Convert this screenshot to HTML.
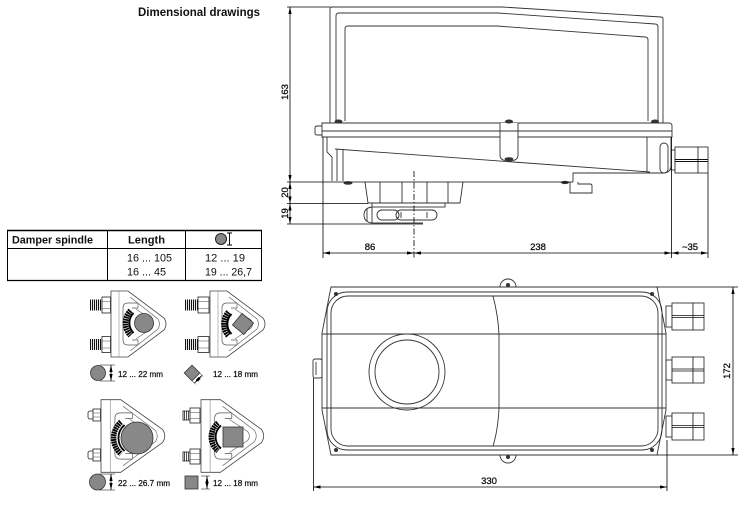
<!DOCTYPE html>
<html><head><meta charset="utf-8"><style>
html,body{margin:0;padding:0;background:#fff;}
svg{display:block;}
text{font-family:"Liberation Sans",Arial,sans-serif;fill:#111;}
</style></head><body>
<svg width="742" height="508" viewBox="0 0 742 508" xmlns="http://www.w3.org/2000/svg">
<defs>
<marker id="ar" markerWidth="7" markerHeight="4" refX="7" refY="2" orient="auto-start-reverse" markerUnits="userSpaceOnUse"><path d="M0,0.4 L7,2 L0,3.6 z" fill="#000"/></marker>
<g id="cb">
 <path d="M0,-33 H17 L53,-6 Q57,0 53,6 L17,33 H0 Z" fill="#fff" stroke="#444" stroke-width="0.8" vector-effect="non-scaling-stroke"/>
 <path d="M8,-33 V33" fill="none" stroke="#888" stroke-width="0.6" vector-effect="non-scaling-stroke"/>
 <path d="M19,-27 L47,-5 Q50,0 47,5 L19,27" fill="none" stroke="#666" stroke-width="0.7" vector-effect="non-scaling-stroke"/>
 <path d="M27,-21 H17 Q12,-21 12,-16 V16 Q12,21 17,21 H27 M27,-21 V-16 H21 M27,21 V16 H21" fill="none" stroke="#555" stroke-width="0.7" vector-effect="non-scaling-stroke"/>
 <path d="M25,-15 L41,-4 Q44,0 41,4 L25,15" fill="none" stroke="#666" stroke-width="0.7" vector-effect="non-scaling-stroke"/>
</g>
</defs>

<!-- Title -->
<text x="138" y="16" font-size="12" font-weight="bold" textLength="122" lengthAdjust="spacingAndGlyphs">Dimensional drawings</text>

<!-- Table -->
<g stroke="#000" fill="none">
 <line x1="7" y1="230.5" x2="262" y2="230.5" stroke-width="1.6"/>
 <line x1="7" y1="248.5" x2="262" y2="248.5" stroke-width="1"/>
 <line x1="7" y1="280.5" x2="262" y2="280.5" stroke-width="1.3"/>
 <line x1="7.5" y1="230" x2="7.5" y2="281" stroke-width="1"/>
 <line x1="107.5" y1="230" x2="107.5" y2="281" stroke-width="1"/>
 <line x1="185.5" y1="230" x2="185.5" y2="281" stroke-width="1"/>
 <line x1="261.5" y1="230" x2="261.5" y2="281" stroke-width="1"/>
</g>
<text x="12" y="243.5" font-size="11" font-weight="bold" textLength="81" lengthAdjust="spacingAndGlyphs">Damper spindle</text>
<text x="128" y="243.5" font-size="11" font-weight="bold" textLength="37" lengthAdjust="spacingAndGlyphs">Length</text>
<circle cx="221" cy="239" r="5.5" fill="#888" stroke="#222" stroke-width="1"/>
<path d="M229.5,233 V245 M227,233 H232 M227,245 H232" stroke="#000" stroke-width="0.9" fill="none"/>
<text x="127" y="261.5" font-size="11" textLength="45" lengthAdjust="spacingAndGlyphs">16 ... 105</text>
<text x="127" y="275.5" font-size="11" textLength="39" lengthAdjust="spacingAndGlyphs">16 ... 45</text>
<text x="205" y="261.5" font-size="11" textLength="40" lengthAdjust="spacingAndGlyphs">12 ... 19</text>
<text x="205" y="275.5" font-size="11" textLength="47" lengthAdjust="spacingAndGlyphs">19 ... 26,7</text>

<!-- ========== Clamps ========== -->
<!-- clamp 1 -->
<line x1="90" y1="305" x2="102" y2="305" stroke="#111" stroke-width="11" stroke-dasharray="1.1 0.9"/>
<line x1="90" y1="344.5" x2="102" y2="344.5" stroke="#111" stroke-width="11" stroke-dasharray="1.1 0.9"/>
<g fill="#fff" stroke="#222" stroke-width="0.8">
 <rect x="102" y="297" width="8.5" height="16"/>
 <rect x="102" y="336.5" width="8.5" height="16"/>
</g>
<path d="M102,301.5 H110.5 M102,308.5 H110.5 M102,341 H110.5 M102,348 H110.5" stroke="#444" stroke-width="0.6"/>
<use href="#cb" transform="translate(111,324)"/>
<path d="M130.5,310.5 A18,18 0 0 0 130.5,335.5" fill="none" stroke="#000" stroke-width="5.5" stroke-dasharray="1.8 0.6"/>
<path d="M133.5,313 A14,14 0 0 0 133.5,333" fill="none" stroke="#000" stroke-width="2"/>
<circle cx="144" cy="323" r="9.5" fill="#888" stroke="#333" stroke-width="0.8"/>
<!-- legend 1 -->
<circle cx="98" cy="373" r="7.5" fill="#888" stroke="#333" stroke-width="0.8"/>
<path d="M100,365 H115 M100,381 H115" stroke="#000" stroke-width="0.5"/>
<line x1="111" y1="365" x2="111" y2="381" stroke="#000" stroke-width="0.8" marker-start="url(#ar)" marker-end="url(#ar)"/>
<text x="118" y="377" font-size="8" stroke="#111" stroke-width="0.25" textLength="45" lengthAdjust="spacingAndGlyphs">12 ... 22 mm</text>

<!-- clamp 2 -->
<line x1="185" y1="305" x2="198" y2="305" stroke="#111" stroke-width="11" stroke-dasharray="1.1 0.9"/>
<line x1="185" y1="344.5" x2="198" y2="344.5" stroke="#111" stroke-width="11" stroke-dasharray="1.1 0.9"/>
<g fill="#fff" stroke="#222" stroke-width="0.8">
 <rect x="198" y="297" width="11" height="16"/>
 <rect x="198" y="336.5" width="11" height="16"/>
</g>
<path d="M198,301.5 H209 M198,308.5 H209 M198,341 H209 M198,348 H209" stroke="#444" stroke-width="0.6"/>
<use href="#cb" transform="translate(210,324)"/>
<path d="M228.5,312 A18,18 0 0 0 228.5,336" fill="none" stroke="#000" stroke-width="5.5" stroke-dasharray="1.8 0.6"/>
<path d="M231.5,314 A14,14 0 0 0 231.5,334" fill="none" stroke="#000" stroke-width="2"/>
<rect x="235.5" y="316.5" width="15" height="15" fill="#888" stroke="#333" stroke-width="0.8" transform="rotate(40 243 324)"/>
<!-- legend 2 -->
<rect x="186.5" y="367.5" width="11" height="11" fill="#888" stroke="#333" stroke-width="0.8" transform="rotate(45 192 373)"/>
<path d="M192,380.8 L195.5,384.3 M199.8,373 L203.3,376.5" stroke="#000" stroke-width="0.5"/>
<line x1="194.5" y1="383" x2="202" y2="375.5" stroke="#000" stroke-width="0.7" marker-start="url(#ar)" marker-end="url(#ar)"/>
<text x="213" y="377" font-size="8" stroke="#111" stroke-width="0.25" textLength="45" lengthAdjust="spacingAndGlyphs">12 ... 18 mm</text>

<!-- clamp 3 -->
<g fill="#fff" stroke="#222" stroke-width="0.8">
 <rect x="88" y="411" width="6" height="8" rx="2"/>
 <rect x="88" y="451" width="6" height="8" rx="2"/>
 <rect x="93" y="409" width="7.5" height="12"/>
 <rect x="93" y="449" width="7.5" height="12"/>
</g>
<path d="M93,413 H100.5 M93,417 H100.5 M93,453 H100.5 M93,457 H100.5" stroke="#444" stroke-width="0.6"/>
<use href="#cb" transform="translate(101,436) scale(1.16,1.1)"/>
<path d="M121,422 A21,21 0 0 0 121,454" fill="none" stroke="#000" stroke-width="5.5" stroke-dasharray="1.8 0.6"/>
<path d="M124.5,425 A17,17 0 0 0 124.5,451" fill="none" stroke="#000" stroke-width="1.8"/>
<circle cx="137" cy="438" r="16" fill="#888" stroke="#333" stroke-width="0.8"/>
<!-- legend 3 -->
<circle cx="97.5" cy="482" r="8" fill="#888" stroke="#333" stroke-width="0.8"/>
<path d="M100,474 H115 M100,490 H115" stroke="#000" stroke-width="0.5"/>
<line x1="111" y1="474" x2="111" y2="490" stroke="#000" stroke-width="0.8" marker-start="url(#ar)" marker-end="url(#ar)"/>
<text x="118" y="486" font-size="8" stroke="#111" stroke-width="0.25" textLength="52" lengthAdjust="spacingAndGlyphs">22 ... 26.7 mm</text>

<!-- clamp 4 -->
<g fill="#fff" stroke="#222" stroke-width="0.8">
 <rect x="183" y="411" width="8" height="9"/>
 <rect x="183" y="452" width="8" height="9"/>
 <rect x="190" y="408" width="10" height="15"/>
 <rect x="190" y="449" width="10" height="15"/>
</g>
<path d="M184.5,411 V420 M186.5,411 V420 M188.5,411 V420 M184.5,452 V461 M186.5,452 V461 M188.5,452 V461" stroke="#222" stroke-width="0.8"/>
<path d="M190,412.5 H200 M190,418.5 H200 M190,453.5 H200 M190,459.5 H200" stroke="#444" stroke-width="0.6"/>
<use href="#cb" transform="translate(201,436) scale(1.14,1.1)"/>
<path d="M218,423 A18,18 0 0 0 218,451" fill="none" stroke="#000" stroke-width="5.5" stroke-dasharray="1.8 0.6"/>
<path d="M221,425.5 A15,15 0 0 0 221,448.5" fill="none" stroke="#000" stroke-width="1.8"/>
<rect x="223" y="427" width="20" height="20" fill="#888" stroke="#333" stroke-width="0.8"/>
<!-- legend 4 -->
<rect x="185" y="476" width="13" height="13" fill="#888" stroke="#333" stroke-width="0.8"/>
<path d="M201,476 H210 M201,489 H210" stroke="#000" stroke-width="0.5"/>
<line x1="207" y1="476" x2="207" y2="489" stroke="#000" stroke-width="0.8" marker-start="url(#ar)" marker-end="url(#ar)"/>
<text x="213" y="486" font-size="8" stroke="#111" stroke-width="0.25" textLength="45" lengthAdjust="spacingAndGlyphs">12 ... 18 mm</text>

<!-- ========== Side view ========== -->
<g stroke="#333" stroke-width="0.9" fill="none">
 <path d="M330,123 V9 Q330,7 332,7 H502 L661,17 Q663,17 663,19 V123"/>
 <path d="M336,121 V16 Q336,13 339,13 H498 L655,24 Q658,24 658,27 V121"/>
 <path d="M345,121 V29 Q345,26 348,26 H497 L645,37 Q648,37 648,40 V121"/>
 <!-- flange -->
 <path d="M322,123 H669 Q672,123 672,126 V137 H322 Z" fill="#fff"/>
 <line x1="322" y1="131" x2="672" y2="131"/>
 <path d="M322,126 H317 Q315,126 315,128 V133 Q315,135 317,135 H322"/>
 <!-- center lug -->
 <path d="M500,123 V155 Q500,161 509,161 Q518,161 518,155 V123" fill="#fff"/>
 <line x1="500" y1="131" x2="518" y2="131"/>
 <!-- lower body -->
 <path d="M327,137 V152 L332,157 V181"/>
 <path d="M337,149 V181"/>
 <path d="M343,150 V181"/>
 <path d="M335,149 L650,172"/>
 <path d="M647,137 V172"/>
 <path d="M573,182 V173 H663 Q671,173 671,165 V137"/>
 <rect x="660" y="143" width="8" height="30" rx="4" fill="#fff"/>
 <!-- bracket -->
 <path d="M570,182 V193 H592 V186 Q592,184 590,184 H578 V182"/>
 <!-- coupling -->
 <path d="M365,182 L368,203 H460 L463,182"/>
 <path d="M380,182 V203 M402,182 V203 M427,182 V203 M448,182 V203"/>
 <rect x="372" y="203" width="73" height="4"/>
 <path d="M372,207 Q364,208 364,215 Q364,222 372,223"/>
 <path d="M367,209 V221"/>
 <line x1="372" y1="207" x2="372" y2="223"/>
 <rect x="377" y="210" width="22" height="10" rx="5"/>
 <rect x="396" y="210" width="41" height="10" rx="5"/>
 <path d="M401,212 V218 M427,212 V218"/>
 <!-- gland -->
 <rect x="671" y="150" width="4" height="20"/>
 <rect x="675" y="147" width="23" height="26" fill="#fff"/>
 <rect x="698" y="147" width="10" height="26" fill="#fff"/>
</g>
<path d="M675,159.5 H708 M675,161.5 H708" stroke="#111" stroke-width="0.9"/>
<!-- screw heads -->
<g fill="#333">
 <ellipse cx="338.5" cy="121.5" rx="4" ry="2"/>
 <ellipse cx="509" cy="121.5" rx="4" ry="2"/>
 <ellipse cx="655" cy="121.5" rx="4" ry="2"/>
 <ellipse cx="509" cy="159" rx="4.5" ry="1.8"/>
 <ellipse cx="348" cy="183" rx="4.5" ry="1.8"/>
 <ellipse cx="565" cy="182.5" rx="4" ry="1.6"/>
</g>
<!-- dimension lines side -->
<g stroke="#000" stroke-width="0.8" fill="none">
 <line x1="287" y1="7" x2="330" y2="7"/>
 <line x1="287" y1="182" x2="573" y2="182"/>
 <line x1="287" y1="203.5" x2="368" y2="203.5"/>
 <line x1="287" y1="224" x2="423" y2="224"/>
 <line x1="372" y1="223" x2="423" y2="223"/>
 <line x1="290" y1="7" x2="290" y2="182" marker-start="url(#ar)" marker-end="url(#ar)"/>
 <line x1="290" y1="182" x2="290" y2="203.5" marker-start="url(#ar)" marker-end="url(#ar)"/>
 <line x1="290" y1="203.5" x2="290" y2="224" marker-start="url(#ar)" marker-end="url(#ar)"/>
 <line x1="323" y1="137" x2="323" y2="258"/>
 <line x1="671.5" y1="137" x2="671.5" y2="258"/>
 <line x1="708" y1="173" x2="708" y2="258"/>
 <line x1="323" y1="253" x2="414" y2="253" marker-start="url(#ar)" marker-end="url(#ar)"/>
 <line x1="414" y1="253" x2="671.5" y2="253" marker-start="url(#ar)" marker-end="url(#ar)"/>
 <line x1="671.5" y1="253" x2="708" y2="253" marker-start="url(#ar)" marker-end="url(#ar)"/>
 <line x1="414" y1="171" x2="414" y2="258" stroke-dasharray="6 2 1.5 2"/>
</g>
<g stroke="#111" stroke-width="0.3">
<text transform="translate(288,92) rotate(-90)" font-size="9.5" text-anchor="middle">163</text>
<text transform="translate(288,192.5) rotate(-90)" font-size="9.5" text-anchor="middle">20</text>
<text transform="translate(288,213.5) rotate(-90)" font-size="9.5" text-anchor="middle">19</text>
<text x="370" y="250" font-size="9.5" text-anchor="middle">86</text>
<text x="538" y="250" font-size="9.5" text-anchor="middle">238</text>
<text x="690" y="250" font-size="9.5" text-anchor="middle">~35</text>
</g>

<!-- ========== Top view ========== -->
<g stroke="#333" stroke-width="0.9" fill="none">
 <path d="M500,287 A8,8 0 0 1 516,287" fill="#fff"/>
 <path d="M500,455 A8,8 0 0 0 516,455" fill="#fff"/>
 <path d="M331,287 H657 L666,333 V410 L657,455 H331 L322,410 V333 Z"/>
 <rect x="327" y="292" width="335" height="158" rx="20"/>
 <rect x="331" y="296" width="327" height="150" rx="17"/>
 <line x1="322" y1="334" x2="666" y2="334"/>
 <line x1="322" y1="408" x2="666" y2="408"/>
 <path d="M493,296 Q498,315 499,334 V408 Q498,430 493,446"/>
 <circle cx="407" cy="372" r="38"/>
 <circle cx="407" cy="372" r="32"/>
 <rect x="313" y="359" width="9" height="19" rx="2"/>
 <line x1="316" y1="362" x2="316" y2="375"/>
 <!-- glands -->
 <rect x="666" y="306" width="6" height="21"/>
 <rect x="672" y="303" width="21" height="27" fill="#fff"/>
 <rect x="693" y="303" width="11" height="27" fill="#fff"/>
 <rect x="666" y="360" width="6" height="20"/>
 <rect x="672" y="357" width="21" height="26" fill="#fff"/>
 <rect x="693" y="357" width="11" height="26" fill="#fff"/>
 <rect x="666" y="416" width="6" height="21"/>
 <rect x="672" y="413" width="21" height="27" fill="#fff"/>
 <rect x="693" y="413" width="11" height="27" fill="#fff"/>
</g>
<path d="M672,315.5 H704 M672,317.5 H704 M672,369 H704 M672,371 H704 M672,425.5 H704 M672,427.5 H704" stroke="#111" stroke-width="0.8"/>
<g fill="#333">
 <circle cx="336" cy="294" r="2"/><circle cx="652" cy="294" r="2"/>
 <circle cx="336" cy="450" r="2"/><circle cx="652" cy="450" r="2"/>
 <circle cx="508" cy="285" r="2"/><circle cx="508" cy="457" r="2"/>
</g>
<g stroke="#000" stroke-width="0.8" fill="none">
 <line x1="657" y1="287" x2="738" y2="287"/>
 <line x1="657" y1="455" x2="738" y2="455"/>
 <line x1="733" y1="287" x2="733" y2="455" marker-start="url(#ar)" marker-end="url(#ar)"/>
 <line x1="313.5" y1="378" x2="313.5" y2="491"/>
 <line x1="667" y1="440" x2="667" y2="491"/>
 <line x1="313.5" y1="487" x2="667" y2="487" marker-start="url(#ar)" marker-end="url(#ar)"/>
</g>
<g stroke="#111" stroke-width="0.3">
<text transform="translate(730,371) rotate(-90)" font-size="9.5" text-anchor="middle">172</text>
<text x="489" y="484" font-size="9.5" text-anchor="middle">330</text>
</g>
</svg>
</body></html>
